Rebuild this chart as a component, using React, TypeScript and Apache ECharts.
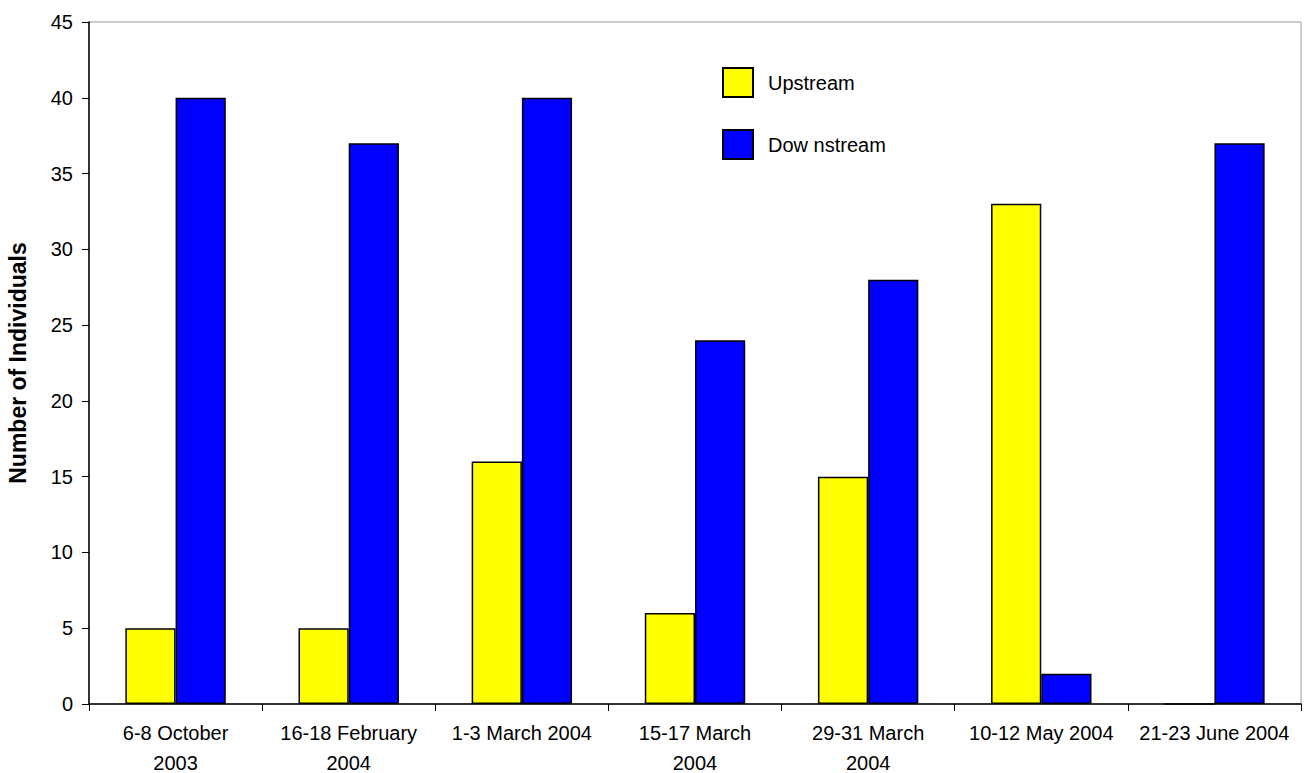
import React, { useEffect, useRef } from "react";
import * as echarts from "echarts";

const categories = [
  "6-8 October\n2003",
  "16-18 February\n2004",
  "1-3 March 2004",
  "15-17 March\n2004",
  "29-31 March\n2004",
  "10-12 May 2004",
  "21-23 June 2004",
];
const upstream = [5, 5, 16, 6, 15, 33, 0];
const downstream = [40, 37, 40, 24, 28, 2, 37];
const seriesNames = ["Upstream", "Dow nstream"];

const FONT = "'Liberation Sans', Arial, sans-serif";

export default function App() {
  const ref = useRef<HTMLDivElement>(null);

  useEffect(() => {
    if (!ref.current) return;
    const chart = echarts.init(ref.current, null, { renderer: "svg" });
    chart.setOption({
      animation: false,
      backgroundColor: "#ffffff",
      textStyle: { fontFamily: FONT },
      grid: {
        left: 89,
        right: 9,
        top: 22,
        bottom: 69,
        show: true,
        borderColor: "#999999",
        borderWidth: 1,
        outerBoundsMode: "none",
        containLabel: false,
      },
      legend: {
        orient: "vertical",
        left: 722,
        top: 67,
        padding: 0,
        itemWidth: 30,
        itemHeight: 29,
        itemGap: 31,
        icon: "rect",
        textStyle: { fontSize: 20, color: "#000", fontFamily: FONT, padding: [0, 0, 0, 10] },
        data: seriesNames,
      },
      xAxis: {
        type: "category",
        data: categories,
        axisLine: { lineStyle: { color: "#000", width: 1.5 } },
        axisTick: { show: true, length: 7, lineStyle: { color: "#000" } },
        axisLabel: {
          fontSize: 20,
          color: "#000",
          lineHeight: 30,
          margin: 14,
          interval: 0,
          fontFamily: FONT,
        },
      },
      yAxis: {
        type: "value",
        min: 0,
        max: 45,
        interval: 5,
        name: "Number of Individuals",
        nameLocation: "middle",
        nameGap: 60,
        nameTextStyle: { fontSize: 23, fontWeight: "bold", color: "#000", fontFamily: FONT },
        axisLine: { show: true, lineStyle: { color: "#000", width: 1.5 } },
        axisTick: { show: true, length: 7, lineStyle: { color: "#000" } },
        axisLabel: { fontSize: 20, color: "#000", margin: 16, fontFamily: FONT },
        splitLine: { show: false },
      },
      series: [
        {
          name: seriesNames[0],
          type: "bar",
          data: upstream,
          barWidth: "29%",
          barGap: "0%",
          itemStyle: { color: "#FFFF00", borderColor: "#000", borderWidth: 1.5 },
        },
        {
          name: seriesNames[1],
          type: "bar",
          data: downstream,
          barWidth: "29%",
          barGap: "0%",
          itemStyle: { color: "#0000FF", borderColor: "#000", borderWidth: 1.5 },
        },
      ],
    });
    return () => chart.dispose();
  }, []);

  return (
    <div
      ref={ref}
      style={{ position: "fixed", left: 0, top: 0, width: 1310, height: 773 }}
    />
  );
}
